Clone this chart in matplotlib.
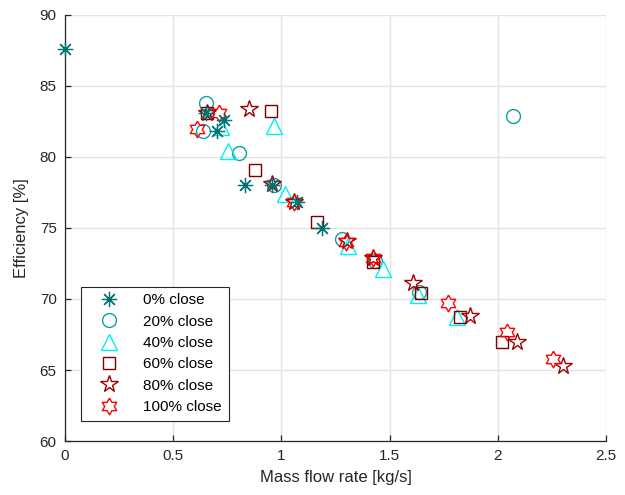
import numpy as np
import matplotlib.pyplot as plt

plt.rcParams['font.family'] = ['Liberation Sans', 'DejaVu Sans']

# mass flow rate [kg/s] and efficiency [%] per valve closure
x_0 = [0.0, 0.652, 0.735, 0.702, 0.832, 0.957, 1.072, 1.188]
y_0 = [87.6, 83.1, 82.6, 81.8, 78.0, 78.0, 76.8, 75.0]

x_20 = [2.07, 0.652, 0.638, 0.804, 0.966, 1.28, 1.433, 1.636]
y_20 = [82.9, 83.8, 81.8, 80.3, 78.0, 74.2, 72.7, 70.5]

x_40 = [0.966, 0.721, 0.753, 1.017, 1.308, 1.47, 1.631, 1.811]
y_40 = [82.2, 82.1, 80.4, 77.4, 73.7, 72.1, 70.3, 68.7]

x_60 = [0.952, 0.656, 0.878, 1.165, 1.423, 1.645, 1.825, 2.019]
y_60 = [83.2, 83.1, 79.1, 75.4, 72.6, 70.4, 68.7, 67.0]

x_80 = [0.85, 0.656, 0.957, 1.058, 1.303, 1.423, 1.608, 1.872, 2.089, 2.301]
y_80 = [83.4, 83.1, 78.1, 76.8, 74.1, 72.9, 71.1, 68.8, 67.0, 65.3]

x_100 = [0.61, 0.712, 1.058, 1.299, 1.423, 1.77, 2.043, 2.255]
y_100 = [82.0, 83.1, 76.8, 74.0, 72.9, 69.7, 67.7, 65.8]

labels = ['0% close', '20% close', '40% close', '60% close', '80% close', '100% close']

# six-pointed star outline (star of David proportions)
ang = np.pi / 2 + np.arange(12) * np.pi / 6
rad = np.where(np.arange(12) % 2 == 0, 1.0, 1 / np.sqrt(3))
hexagram = np.column_stack([rad * np.cos(ang), rad * np.sin(ang)])
hexagram = np.vstack([hexagram, hexagram[:1]])

fig = plt.figure(figsize=(6.25, 4.95), dpi=100)
ax = fig.add_axes([0.104, 0.109, 0.8656, 0.861])

ax.plot(x_0, y_0, ls='none', marker=(8, 2, 0), ms=11, mew=0.9, color='#007373',
        label=labels[0], clip_on=False, zorder=3)
ax.plot(x_20, y_20, ls='none', marker='o', ms=10, mew=1.0, mfc='none', color='#10a0a0', label=labels[1])
ax.plot(x_40, y_40, ls='none', marker='^', ms=11, mew=1.0, mfc='none', color='#00f0f0', label=labels[2])
ax.plot(x_60, y_60, ls='none', marker='s', ms=9, mew=1.0, mfc='none', color='#7a0000', label=labels[3])
ax.plot(x_80, y_80, ls='none', marker='*', ms=13, mew=1.0, mfc='none', color='#a00000', label=labels[4])
ax.plot(x_100, y_100, ls='none', marker=hexagram, ms=12, mew=1.0, mfc='none', color='#ff0000', label=labels[5])

ax.set_xlim(0, 2.5)
ax.set_ylim(60, 90)
ax.set_xticks(np.arange(0, 2.51, 0.5))
ax.set_xticklabels(['0', '0.5', '1', '1.5', '2', '2.5'])
ax.set_yticks(np.arange(60, 91, 5))

ax.grid(True, color='#e3e3e3', linewidth=1.0)
ax.set_axisbelow(True)
for side in ['top', 'right']:
    ax.spines[side].set_visible(False)
for side in ['left', 'bottom']:
    ax.spines[side].set_color('#262626')
    ax.spines[side].set_linewidth(0.9)
ax.tick_params(direction='in', length=4, width=0.9, colors='#262626', labelsize=11, pad=6)

ax.set_xlabel('Mass flow rate [kg/s]', fontsize=12, color='#262626', labelpad=5)
ax.set_ylabel('Efficiency [%]', fontsize=12, color='#262626', labelpad=8)

leg = ax.legend(loc='lower left', bbox_to_anchor=(0.03, 0.047), fontsize=11,
                frameon=True, fancybox=False, edgecolor='#262626', framealpha=1,
                borderpad=0.45, labelspacing=0.48, handletextpad=0.8, handlelength=2.8,
                borderaxespad=0)
leg.get_frame().set_linewidth(0.8)

fig.savefig('out.png', dpi=100)
